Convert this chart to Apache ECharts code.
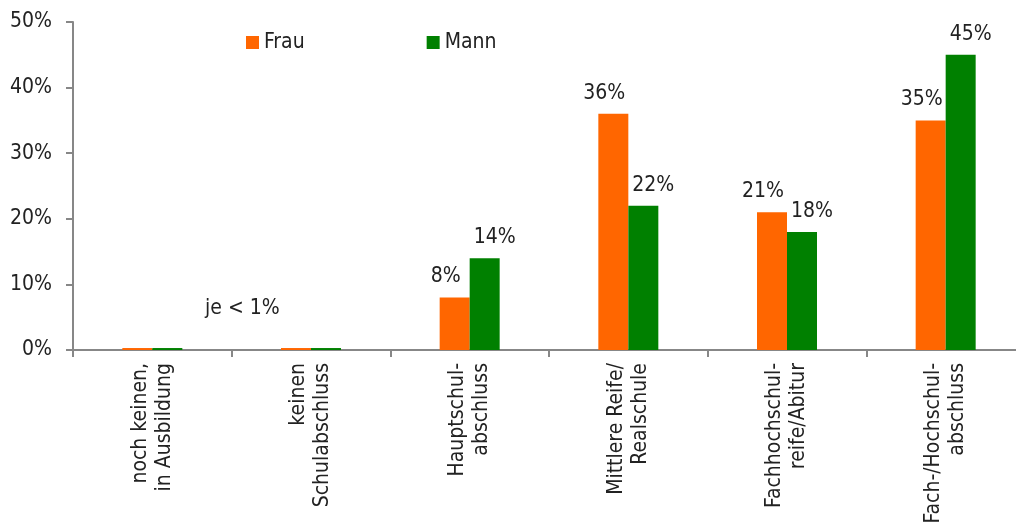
<!DOCTYPE html>
<html>
<head>
<meta charset="utf-8">
<script src="https://cdn.jsdelivr.net/npm/echarts@6/dist/echarts.min.js"></script>
<style>
  html, body { margin: 0; padding: 0; background: #fff; }
  #chart { width: 1016px; height: 526px; }
</style>
</head>
<body>
<div id="chart"></div>
<script>
  // Daten
  const categories = [
    'noch keinen,\nin Ausbildung',
    'keinen\nSchulabschluss',
    'Hauptschul-\nabschluss',
    'Mittlere Reife/\nRealschule',
    'Fachhochschul-\nreife/Abitur',
    'Fach-/Hochschul-\nabschluss'
  ]
  const frau = [0.3, 0.3, 8, 36, 21, 35]
  const mann = [0.3, 0.3, 14, 22, 18, 45]
  const yTicks = [0, 10, 20, 30, 40, 50]

  const FONT = "'Liberation Sans Narrow', 'DejaVu Sans Condensed', sans-serif"
  const AXIS = '#878787'
  const TEXT = '#222'

  const chart = echarts.init(document.getElementById('chart'))

  // Beschriftung nur ab 1 %
  const barLabel = (dx) => ({
    show: true,
    position: 'top',
    distance: 10,
    offset: [dx, 0],
    fontFamily: FONT,
    fontSize: 21,
    color: TEXT,
    formatter: (p) => (p.value >= 1 ? p.value + '%' : '')
  })

  chart.setOption({
    animation: false,
    textStyle: { fontFamily: FONT },
    grid: {
      left: 73, top: 22, right: -9, bottom: 176,
      containLabel: false,
      outerBoundsMode: 'none'
    },
    legend: {
      left: 246,
      top: 32,
      padding: 0,
      itemWidth: 13,
      itemHeight: 13,
      itemGap: 122,
      icon: 'rect',
      textStyle: { fontFamily: FONT, fontSize: 21, color: TEXT },
      data: ['Frau', 'Mann']
    },
    xAxis: {
      type: 'category',
      data: categories,
      axisLine: { lineStyle: { color: AXIS, width: 2 } },
      axisTick: { show: true, length: 7, lineStyle: { color: AXIS, width: 2 } },
      axisLabel: {
        rotate: 90,
        margin: 13,
        interval: 0,
        fontFamily: FONT,
        fontSize: 21,
        lineHeight: 24,
        color: TEXT
      }
    },
    yAxis: {
      type: 'value',
      min: yTicks[0],
      max: yTicks[yTicks.length - 1],
      interval: 10,
      splitLine: { show: false },
      axisLine: { show: true, lineStyle: { color: AXIS, width: 2 } },
      axisTick: { show: true, length: 7, lineStyle: { color: AXIS, width: 2 } },
      axisLabel: {
        margin: 21,
        fontFamily: FONT,
        fontSize: 21,
        color: TEXT,
        formatter: '{value}%'
      }
    },
    graphic: [{
      type: 'text',
      left: 205,
      top: 298,
      style: { text: 'je < 1%', font: '21px ' + FONT, fill: TEXT }
    }],
    series: [
      {
        name: 'Frau',
        type: 'bar',
        data: frau,
        barWidth: 30,
        barGap: '0%',
        itemStyle: { color: '#ff6600' },
        label: barLabel(-9)
      },
      {
        name: 'Mann',
        type: 'bar',
        data: mann,
        barWidth: 30,
        barGap: '0%',
        itemStyle: { color: '#008000' },
        label: barLabel(10)
      }
    ]
  })
</script>
</body>
</html>
